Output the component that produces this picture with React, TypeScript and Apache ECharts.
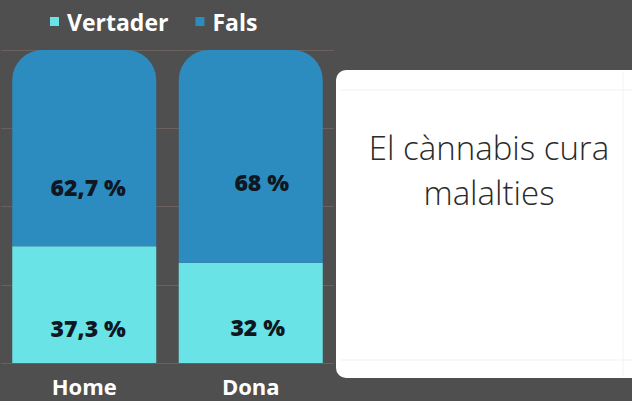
import React, { useEffect, useRef } from "react";
import * as echarts from "echarts";

const categories = ["Home", "Dona"];
const vertader = [37.3, 32];
const fals = [62.7, 68];
const seriesNames = ["Vertader", "Fals"];
const cardLines = ["El cànnabis cura", "malalties"];

// label nudges to mimic the reference placement
const falsOffsets = [[4, 39], [11, 26]];
const vertOffsets = [[4, 23], [7, 14]];

const fmt = (v: number) => String(v).replace(".", ",") + " %";

export default function App() {
  const ref = useRef<HTMLDivElement>(null);
  useEffect(() => {
    document.body.style.margin = "0";
    const chart = echarts.init(ref.current!, null, { renderer: "svg" });
    const labelBase = {
      show: true,
      position: "inside" as const,
      color: "#0f1822",
      fontFamily: "Open Sans",
      fontWeight: 800 as any,
      fontSize: 23,
      formatter: (p: any) => fmt(p.value),
    };
    chart.setOption({
      animation: false,
      backgroundColor: "#4f4f4f",
      legend: {
        left: 45,
        top: 5,
        icon: "rect",
        itemWidth: 9,
        itemHeight: 9,
        itemGap: 27,
        textStyle: { color: "#ffffff", fontFamily: "Open Sans", fontWeight: "bold", fontSize: 23, padding: [0, 0, 0, 3] },
        data: seriesNames,
      },
      grid: { left: 1, width: 333, top: 50, bottom: 38 },
      xAxis: {
        type: "category",
        data: categories,
        axisLine: { show: false },
        axisTick: { show: false },
        axisLabel: {
          color: "#ffffff",
          fontFamily: "Open Sans",
          fontWeight: "bold",
          fontSize: 22,
          lineHeight: 20,
          margin: 13,
        },
      },
      yAxis: {
        type: "value",
        min: 0,
        max: 100,
        interval: 25,
        axisLabel: { show: false },
        axisLine: { show: false },
        axisTick: { show: false },
        splitLine: { lineStyle: { color: "#6a615e", width: 1 } },
      },
      series: [
        {
          name: seriesNames[0],
          type: "bar",
          stack: "t",
          barWidth: 144,
          itemStyle: { color: "#6ae3e6" },
          data: vertader.map((v, i) => ({ value: v, label: { offset: vertOffsets[i] } })),
          label: labelBase,
        },
        {
          name: seriesNames[1],
          type: "bar",
          stack: "t",
          barWidth: 144,
          itemStyle: { color: "#2c8cbf", borderRadius: [30, 30, 0, 0] },
          data: fals.map((v, i) => ({ value: v, label: { offset: falsOffsets[i] } })),
          label: labelBase,
        },
      ],
      graphic: [
        {
          type: "rect",
          shape: { x: 336, y: 70, width: 320, height: 308, r: 10 },
          style: { fill: "#ffffff" },
        },
        {
          type: "line",
          shape: { x1: 340, y1: 90, x2: 632, y2: 90 },
          style: { stroke: "#f1f1f1", lineWidth: 1 },
        },
        {
          type: "line",
          shape: { x1: 340, y1: 360, x2: 632, y2: 360 },
          style: { stroke: "#f1f1f1", lineWidth: 1 },
        },
        {
          type: "line",
          shape: { x1: 623, y1: 72, x2: 623, y2: 376 },
          style: { stroke: "#f3f3f3", lineWidth: 1 },
        },
        {
          type: "text",
          x: 489,
          y: 147,
          style: {
            text: cardLines[0],
            fill: "#2a2a2a",
            font: "300 33px 'Open Sans'",
            textAlign: "center",
            textVerticalAlign: "middle",
          },
        },
        {
          type: "text",
          x: 489,
          y: 192,
          style: {
            text: cardLines[1],
            fill: "#2a2a2a",
            font: "300 33px 'Open Sans'",
            textAlign: "center",
            textVerticalAlign: "middle",
          },
        },
      ],
    });
    return () => chart.dispose();
  }, []);
  return <div ref={ref} style={{ width: 632, height: 401 }} />;
}
